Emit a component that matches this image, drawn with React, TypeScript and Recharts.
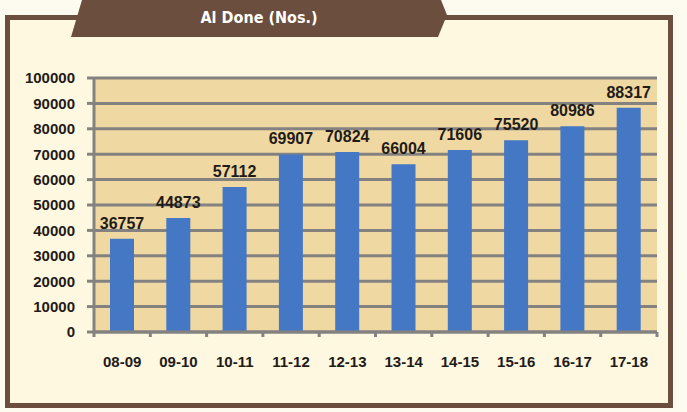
import { BarChart, Bar, XAxis, YAxis, CartesianGrid, LabelList } from 'recharts'

const years = ['08-09', '09-10', '10-11', '11-12', '12-13', '13-14', '14-15', '15-16', '16-17', '17-18']
const aiDone = [36757, 44873, 57112, 69907, 70824, 66004, 71606, 75520, 80986, 88317]
const yTicks = [0, 10000, 20000, 30000, 40000, 50000, 60000, 70000, 80000, 90000, 100000]

const data = years.map((year, i) => ({ year, value: aiDone[i] }))

const W = 687
const H = 412
const margin = { top: 78, right: 30, bottom: 50, left: 0 }
const yAxisWidth = 94
const band = (W - margin.left - margin.right - yAxisWidth) / years.length
const grid = '#848280'
const ink = '#1f1b18'
const font = '"Liberation Sans", Arial, sans-serif'

function YearTick(props: any) {
  const { x, y, payload, index } = props
  const left = x - band / 2
  const right = x + band / 2
  return (
    <g>
      <line x1={left} x2={left} y1={y} y2={y + 5} stroke={grid} strokeWidth={3} />
      {index === years.length - 1 && (
        <line x1={right} x2={right} y1={y} y2={y + 5} stroke={grid} strokeWidth={3} />
      )}
      <text x={x} y={y + 35} textAnchor="middle" fill={ink} fontSize={15} fontWeight="bold" fontFamily={font}>
        {payload.value}
      </text>
    </g>
  )
}

export default function App() {
  return (
    <div style={{ position: 'absolute', left: 0, top: 0, width: W, height: H, background: '#fdfaf0', overflow: 'hidden' }}>
      <div
        style={{
          position: 'absolute',
          left: 5,
          top: 15,
          width: 668,
          height: 393,
          boxSizing: 'border-box',
          border: '5px solid #6b4e3e',
          background: '#fef8e0',
        }}
      />
      <svg width={W} height={40} style={{ position: 'absolute', left: 0, top: 0 }}>
        <polygon points="82,0 441,0 447,15 438,37 71,37" fill="#6b4e3e" />
        <text
          x={259}
          y={23}
          textAnchor="middle"
          fill="#ffffff"
          fontSize={16}
          fontWeight="bold"
          fontStretch="condensed"
          fontFamily='"DejaVu Sans Condensed", "Liberation Sans Narrow", "DejaVu Sans", sans-serif'
        >
          Al Done (Nos.)
        </text>
      </svg>
      <div style={{ position: 'absolute', left: 0, top: 0 }}>
        <BarChart width={W} height={H} data={data} margin={margin}>
          <CartesianGrid vertical={false} stroke={grid} strokeWidth={3} fill="#efd8a2" fillOpacity={1} />
          <XAxis
            dataKey="year"
            axisLine={{ stroke: grid, strokeWidth: 3 }}
            tickLine={false}
            tickSize={0}
            tickMargin={0}
            height={30}
            interval={0}
            tick={<YearTick />}
          />
          <YAxis
            width={yAxisWidth}
            domain={[0, 100000]}
            ticks={yTicks}
            interval={0}
            axisLine={{ stroke: grid, strokeWidth: 3 }}
            tickLine={{ stroke: grid, strokeWidth: 3 }}
            tickSize={7}
            tickMargin={12}
            tick={{ fill: ink, fontSize: 15, fontWeight: 'bold', fontFamily: font }}
          />
          <Bar dataKey="value" fill="#4478c4" barSize={24} isAnimationActive={false}>
            <LabelList
              dataKey="value"
              position="top"
              offset={10}
              fill={ink}
              fontSize={16}
              fontWeight="bold"
              fontFamily={font}
            />
          </Bar>
        </BarChart>
      </div>
    </div>
  )
}
